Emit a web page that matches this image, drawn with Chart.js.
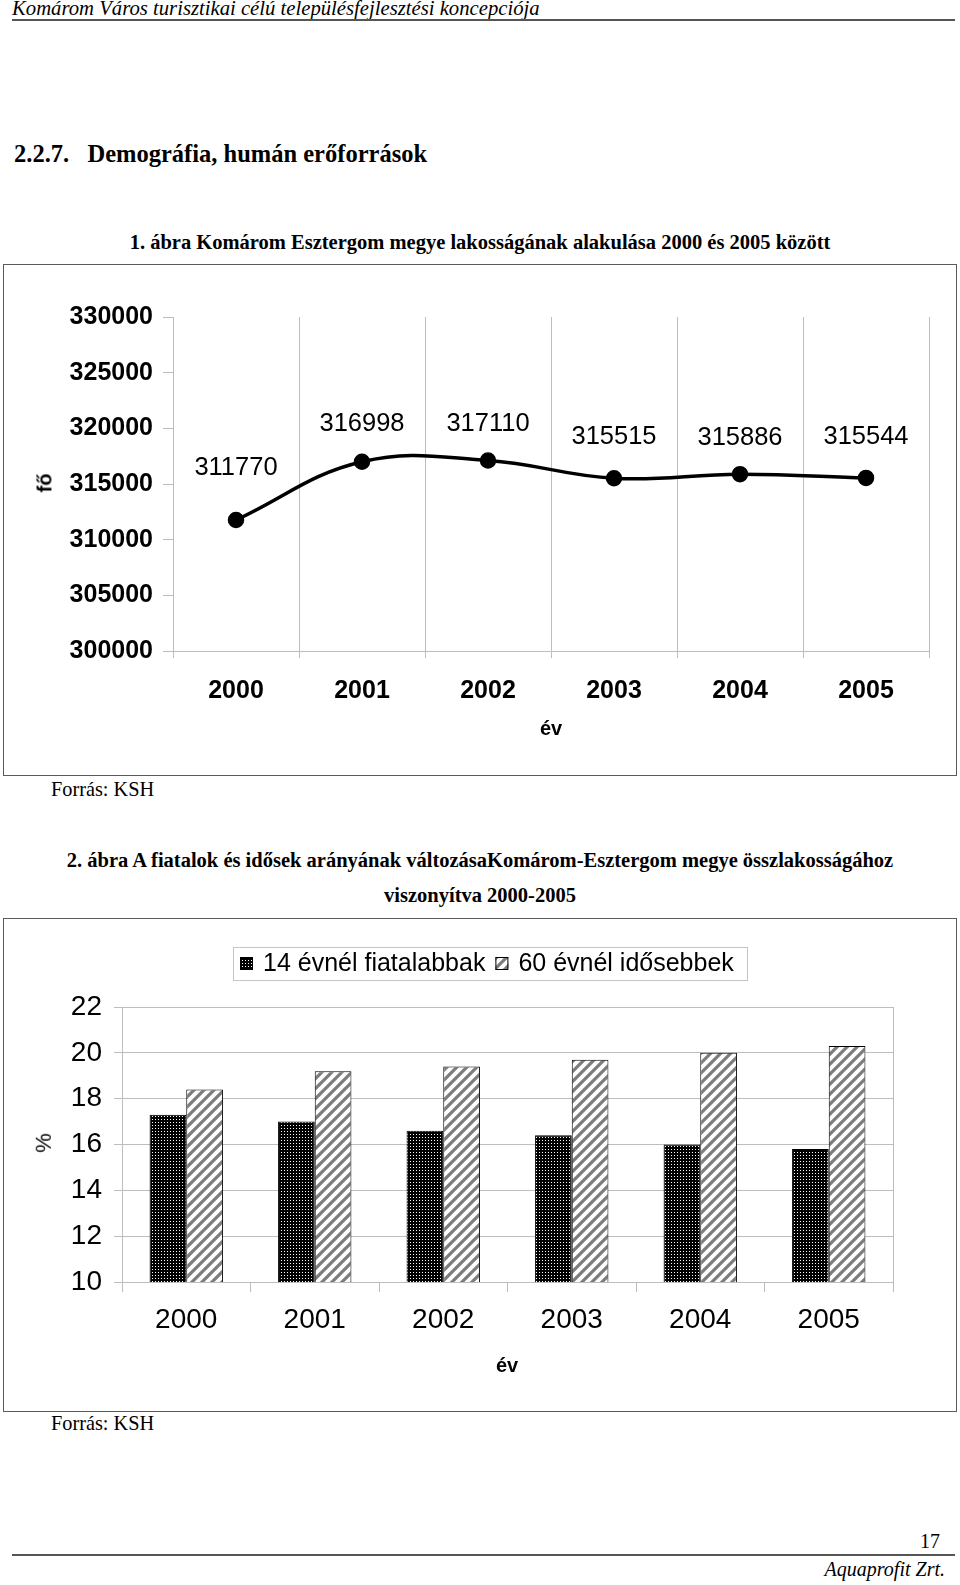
<!DOCTYPE html>
<html>
<head>
<meta charset="utf-8">
<script src="https://cdn.jsdelivr.net/npm/chart.js@4/dist/chart.umd.min.js"></script>
<style>
  html, body { margin:0; padding:0; background:#fff; }
  body { width:960px; height:1585px; position:relative; overflow:hidden; font-family:"Liberation Serif", serif; color:#000; }
  .t { position:absolute; white-space:nowrap; transform:translateY(-50%); line-height:1; }
  .c { left:0; width:960px; text-align:center; }
  .box { position:absolute; border:1.5px solid #5a5a5a; box-sizing:border-box; }
  .hr { position:absolute; height:2px; background:#555; }
  canvas { position:absolute; }
  .ax { position:absolute; font-family:"Liberation Sans", sans-serif; font-weight:bold; font-size:20px; line-height:1; white-space:nowrap; }
</style>
</head>
<body>
<div class="t" style="left:12px; top:8px; font-style:italic; font-size:20.7px;">Komárom Város turisztikai célú településfejlesztési koncepciója</div>
<div class="hr" style="left:12px; top:19px; width:943px;"></div>

<div class="t" style="left:14px; top:154px; font-weight:bold; font-size:24.5px;">2.2.7.&nbsp;&nbsp; Demográfia, humán erőforrások</div>
<div class="t c" style="top:242px; font-weight:bold; font-size:20.5px; left:0px;">1. ábra Komárom Esztergom megye lakosságának alakulása 2000 és 2005 között</div>

<div class="box" style="left:3px; top:264px; width:954px; height:512px;"></div>
<canvas id="c1" width="952" height="509" style="left:4px; top:265px;"></canvas>
<div class="ax" style="left:35px; top:483px; transform:translateY(-50%) rotate(-90deg);">fő</div>
<div class="ax" style="left:551px; top:728px; transform:translate(-50%,-50%);">év</div>
<div class="t" style="left:51px; top:789px; font-size:20.3px;">Forrás: KSH</div>

<div class="t c" style="top:860px; font-weight:bold; font-size:20.5px; left:0px;">2. ábra A fiatalok és idősek arányának változásaKomárom-Esztergom megye összlakosságához</div>
<div class="t c" style="top:895px; font-weight:bold; font-size:20.5px;">viszonyítva 2000-2005</div>

<div class="box" style="left:3px; top:918px; width:954px; height:494px;"></div>
<canvas id="c2" width="952" height="491" style="left:4px; top:920px;"></canvas>
<div class="ax" style="left:34px; top:1143px; font-weight:normal; font-size:22px; transform:translateY(-50%) rotate(-90deg);">%</div>
<div class="ax" style="left:507px; top:1365px; transform:translate(-50%,-50%);">év</div>
<div class="t" style="left:51px; top:1423px; font-size:20.3px;">Forrás: KSH</div>

<div class="t" style="right:20px; top:1541px; font-size:20px;">17</div>
<div class="hr" style="left:12px; top:1554px; width:943px;"></div>
<div class="t" style="right:15px; top:1569px; font-style:italic; font-size:20px;">Aquaprofit Zrt.</div>

<script>
// ---------- data ----------
const years = ['2000', '2001', '2002', '2003', '2004', '2005'];
const population = [311770, 316998, 317110, 315515, 315886, 315544];
const populationTicks = [300000, 305000, 310000, 315000, 320000, 325000, 330000];

const youngLabel = '14 évnél fiatalabbak';
const oldLabel = '60 évnél idősebbek';
const youngShare = [17.3, 17.0, 16.6, 16.4, 16.0, 15.8];
const oldShare = [18.4, 19.2, 19.4, 19.7, 20.0, 20.3];
const shareTicks = [10, 12, 14, 16, 18, 20, 22];

// ---------- helpers ----------
const SANS = '"Liberation Sans", Arial, sans-serif';
const GRID = '#bdbdbd';

function dotPattern() {
  const c = document.createElement('canvas'); c.width = 3; c.height = 3;
  const g = c.getContext('2d');
  g.fillStyle = '#000'; g.fillRect(0, 0, 3, 3);
  g.fillStyle = '#fff'; g.fillRect(1, 1, 1, 1);
  return g.createPattern(c, 'repeat');
}
function hatchPattern() {
  const s = 10;
  const c = document.createElement('canvas'); c.width = s; c.height = s;
  const g = c.getContext('2d');
  g.fillStyle = '#fff'; g.fillRect(0, 0, s, s);
  g.strokeStyle = '#7d7d7d'; g.lineWidth = 3.2;
  g.beginPath();
  g.moveTo(-2, s + 2); g.lineTo(s + 2, -2);
  g.moveTo(-2, 2); g.lineTo(2, -2);
  g.moveTo(s - 2, s + 2); g.lineTo(s + 2, s - 2);
  g.stroke();
  return g.createPattern(c, 'repeat');
}

// ---------- chart 1 ----------
const pointLabels = {
  id: 'pointLabels',
  afterDatasetsDraw(chart, args, opts) {
    const ctx = chart.ctx;
    const meta = chart.getDatasetMeta(0);
    ctx.save();
    ctx.font = '25.5px ' + SANS;
    ctx.fillStyle = '#000';
    ctx.textAlign = 'center';
    ctx.textBaseline = 'middle';
    meta.data.forEach((pt, i) => {
      const v = chart.data.datasets[0].data[i];
      ctx.fillText(String(v), pt.x, pt.y - opts.offsets[i]);
    });
    ctx.restore();
  }
};

new Chart(document.getElementById('c1'), {
  type: 'line',
  data: {
    labels: years,
    datasets: [{
      data: population,
      borderColor: '#000',
      borderWidth: 3.5,
      tension: 0.4,
      pointRadius: 6.5,
      pointBackgroundColor: '#000',
      pointBorderColor: '#000',
      fill: false
    }]
  },
  options: {
    responsive: false,
    animation: false,
    devicePixelRatio: 1,
    layout: { padding: { left: 0, right: 27, top: 52, bottom: 0 } },
    plugins: {
      legend: { display: false },
      tooltip: { enabled: false },
      pointLabels: { offsets: [52, 38, 37, 41, 36, 41] }
    },
    scales: {
      x: {
        type: 'category',
        offset: true,
        grid: { offset: true, drawOnChartArea: true, color: GRID, tickLength: 7, lineWidth: 1 },
        border: { display: true, color: GRID },
        ticks: { color: '#000', font: { family: SANS, size: 25, weight: 'bold' }, padding: 18 },
        afterFit(s) { s.height = 123; }
      },
      y: {
        min: 300000, max: 330000,
        grid: { drawOnChartArea: false, color: GRID, tickLength: 10 },
        border: { display: true, color: GRID },
        afterBuildTicks(s) { s.ticks = populationTicks.map(v => ({ value: v })); },
        ticks: { color: '#000', font: { family: SANS, size: 25, weight: 'bold' }, padding: 10, callback: v => String(v) },
        afterFit(s) { s.width = 169; }
      }
    }
  },
  plugins: [pointLabels]
});

// ---------- chart 2 ----------
const dots = dotPattern();
const hatch = hatchPattern();

const frameAndLegend = {
  id: 'frameAndLegend',
  afterDraw(chart, args, opts) {
    const ctx = chart.ctx;
    const a = chart.chartArea;
    ctx.save();
    // right border of plot area
    ctx.strokeStyle = GRID; ctx.lineWidth = 1;
    ctx.beginPath();
    ctx.moveTo(Math.round(a.right) + 0.5, a.top);
    ctx.lineTo(Math.round(a.right) + 0.5, a.bottom + 10);
    ctx.stroke();
    // legend
    const L = opts.box;
    ctx.strokeStyle = '#c4c4c4'; ctx.lineWidth = 1;
    ctx.strokeRect(L.x + 0.5, L.y + 0.5, L.w, L.h);
    ctx.font = '25px ' + SANS;
    ctx.textBaseline = 'middle';
    ctx.textAlign = 'left';
    let x = L.x + 7;
    const cy = L.y + L.h / 2;
    chart.data.datasets.forEach(ds => {
      ctx.fillStyle = ds.backgroundColor;
      ctx.fillRect(x, cy - 6.5, 13, 13);
      ctx.strokeStyle = '#000'; ctx.lineWidth = 1;
      ctx.strokeRect(x + 0.5, cy - 6.5 + 0.5, 12, 12);
      x += 23;
      ctx.fillStyle = '#000';
      ctx.fillText(ds.label, x, cy + 1);
      x += ctx.measureText(ds.label).width + 10;
    });
    ctx.restore();
  }
};

new Chart(document.getElementById('c2'), {
  type: 'bar',
  data: {
    labels: years,
    datasets: [
      { label: youngLabel, data: youngShare, backgroundColor: dots, borderColor: '#000', borderWidth: 1, categoryPercentage: 0.571, barPercentage: 1.0 },
      { label: oldLabel, data: oldShare, backgroundColor: hatch, borderColor: '#000', borderWidth: 1, categoryPercentage: 0.571, barPercentage: 1.0 }
    ]
  },
  options: {
    responsive: false,
    animation: false,
    devicePixelRatio: 1,
    layout: { padding: { left: 0, right: 63, top: 87, bottom: 0 } },
    plugins: {
      legend: { display: false },
      tooltip: { enabled: false },
      frameAndLegend: { box: { x: 229, y: 27, w: 514, h: 33 } }
    },
    scales: {
      x: {
        offset: true,
        grid: { offset: true, drawOnChartArea: false, color: GRID, tickLength: 10 },
        border: { display: true, color: GRID },
        ticks: { color: '#000', font: { family: SANS, size: 28 }, padding: 11 },
        afterFit(s) { s.height = 129; }
      },
      y: {
        min: 10, max: 22,
        grid: { drawOnChartArea: true, color: GRID, tickLength: 8 },
        border: { display: true, color: GRID },
        afterBuildTicks(s) { s.ticks = shareTicks.map(v => ({ value: v })); },
        ticks: { color: '#000', font: { family: SANS, size: 28 }, padding: 12 },
        afterFit(s) { s.width = 118; }
      }
    }
  },
  plugins: [frameAndLegend]
});
</script>
</body>
</html>
